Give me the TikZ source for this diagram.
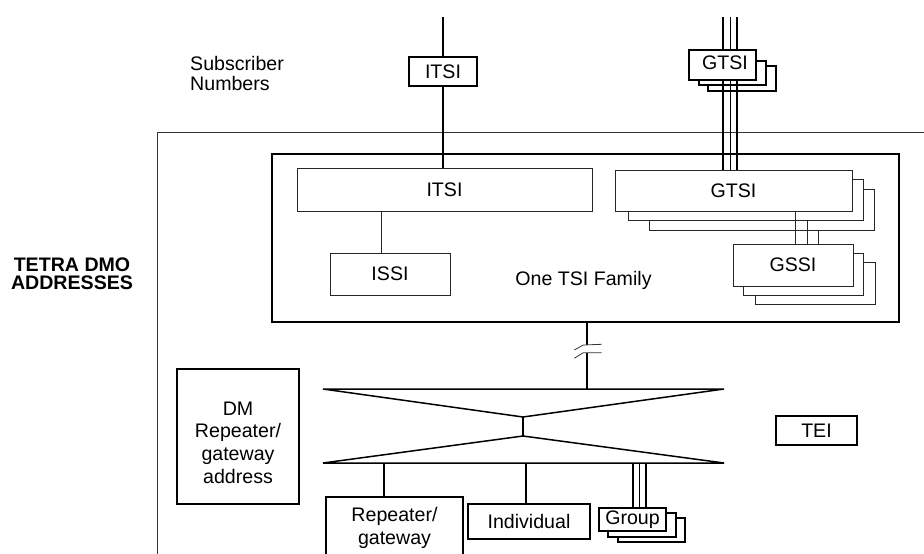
\documentclass[tikz,border=0pt]{standalone}
\usepackage{fontspec}
\setmainfont{Liberation Sans}
\begin{document}
\begin{tikzpicture}[x=1pt,y=-1pt,
  thinbox/.style={draw=black!85, line width=0.9pt, fill=white, inner sep=0pt, font=\fontsize{19.6}{22}\selectfont},
  thickbox/.style={draw=black, line width=1.8pt, fill=white, inner sep=0pt, font=\fontsize{19.6}{22}\selectfont},
  lbl/.style={inner sep=0pt, font=\fontsize{19.6}{22}\selectfont, align=center},
  wire/.style={line width=1.5pt},
  fine/.style={line width=0.9pt, draw=black!85},
  sz/.style 2 args={minimum width=#1, minimum height=#2},
]
\useasboundingbox (0,0) rectangle (924,554);

% outer frame
\coordinate (frTR) at (924,132);
\coordinate (frBL) at (157,556);
\draw[line width=0.9pt, draw=black!80] (frTR) -| (frBL);

% labels
\node[lbl, align=left, anchor=west, font=\fontsize{19.6}{20}\selectfont] (subs) at (190,73.5) {Subscriber\\Numbers};
\node[lbl, font=\fontsize{19.6}{18}\selectfont\bfseries] (tetra) at (72,273.8) {TETRA DMO\\ADDRESSES};

% top ITSI
\coordinate (itsiTopLine) at (443,17);
\node[thickbox, sz={68}{29}] (itsiTop) at (443,71.5) {ITSI};

% family box
\node[draw=black, line width=1.6pt, inner sep=0pt, sz={627}{168}] (family) at (585.5,238) {};
\node[thinbox, sz={295}{43}] (itsiIn) at (444.5,189.5) {ITSI};
\node[thinbox, sz={120}{42}] (issi) at (390,274) {ISSI};
\draw[wire] (itsiTopLine) -- (itsiTop.north);
\draw[wire] (itsiTop.south) -- (itsiTop.south |- itsiIn.north);
\coordinate (issiX) at (381,0);
\draw[fine] (issiX |- itsiIn.south) -- (issiX |- issi.north);
\node[lbl] (family label) at (583.5,280) {One TSI Family};

% GTSI inner stack
\node[thinbox, sz={225}{41}] (gtsiInC) at (761.5,209.5) {};
\node[thinbox, sz={235}{41}] (gtsiInB) at (745.5,199.5) {};
\node[thinbox, sz={237}{41}] (gtsiIn) at (733.5,190.5) {GTSI};

% GSSI stack
\node[thinbox, sz={120}{42}] (gssiC) at (815,283) {};
\node[thinbox, sz={120}{42}] (gssiB) at (803,274) {};
\node[thinbox, sz={120}{42}] (gssi) at (793,265) {GSSI};
\coordinate (ga) at (795,0);
\coordinate (gb) at (807,0);
\coordinate (gc) at (818,0);
\draw[fine] (ga |- gtsiIn.south) -- (ga |- gssi.north);
\draw[fine] (gb |- gtsiInB.south) -- (gb |- gssi.north);
\draw[fine] (gc |- gtsiInC.south) -- (gc |- gssi.north);

% top GTSI stack with triple line
\node[draw=black, line width=1.6pt, fill=white, inner sep=0pt, sz={68}{25}] (gtsiTopC) at (742,78.5) {};
\node[draw=black, line width=1.6pt, fill=white, inner sep=0pt, sz={67}{24}] (gtsiTopB) at (732.5,73) {};
\coordinate (ta) at (723,17);
\coordinate (tb) at (730.5,17);
\coordinate (tc) at (737,17);
\draw[line width=1.3pt] (ta) -- (ta |- gtsiIn.north);
\draw[line width=1.3pt] (tb) -- (tb |- gtsiIn.north);
\draw[line width=1.3pt] (tc) -- (tc |- gtsiIn.north);
\node[thickbox, line width=1.6pt, sz={67}{30}] (gtsiTop) at (722.5,65) {};
\node[lbl] (gtsiTopText) at (725,62.5) {GTSI};

% hourglass
\coordinate (hTL) at (323,389);
\coordinate (hTR) at (724,389);
\coordinate (hWT) at (523,417);
\coordinate (hWB) at (523,436);
\coordinate (hBL) at (323,463);
\coordinate (hBR) at (724,463);
\draw[wire, line join=miter] (hTL) -- (hTR) -- (hWT) -- cycle;
\draw[wire, line join=miter] (hBL) -- (hBR) -- (hWB) -- cycle;
\draw[wire] (hWT) -- (hWB);

% family -> hourglass with break
\coordinate (fx) at (587,0);
\coordinate (brkA) at (587,345);
\coordinate (brkB) at (587,353);
\draw[line width=1.6pt] (fx |- family.south) -- (brkA);
\draw[line width=1.3pt] (brkB) -- (fx |- hTL);
\draw[line width=0.8pt, draw=black!80] (574.3,350) -- (583.3,345) -- (601.7,344.3);
\draw[line width=0.8pt, draw=black!80] (574.3,358.3) -- (583.3,352.7) -- (601.7,352.7);

% DM box
\node[thickbox, sz={122}{135}] (dm) at (238,436.5) {};
\node[lbl, font=\fontsize{19.6}{22.7}\selectfont] (dmtext) at (238,442.4) {DM\\Repeater/\\gateway\\address};

% bottom boxes
\node[thickbox, sz={137}{61}, align=center, font=\fontsize{19.6}{23}\selectfont] (rep) at (394.5,527.5) {Repeater/\\gateway};
\node[thickbox, sz={122}{35}] (indiv) at (529,521.5) {Individual};
\node[draw=black, line width=1.5pt, fill=white, inner sep=0pt, sz={67}{24}] (groupC) at (651.5,530) {};
\node[draw=black, line width=1.5pt, fill=white, inner sep=0pt, sz={68}{24}] (groupB) at (642,525) {};
\node[thickbox, line width=1.5pt, sz={67}{23}] (group) at (632.5,519.5) {Group};

\coordinate (rx) at (384,0);
\coordinate (ix) at (526,0);
\coordinate (g1) at (633,0);
\coordinate (g2) at (639.5,0);
\coordinate (g3) at (646,0);
\draw[wire] (rx |- hBL) -- (rx |- rep.north);
\draw[wire] (ix |- hBL) -- (ix |- indiv.north);
\draw[line width=1.2pt] (g1 |- hBL) -- (g1 |- group.north);
\draw[line width=1.2pt] (g2 |- hBL) -- (g2 |- group.north);
\draw[line width=1.2pt] (g3 |- hBL) -- (g3 |- group.north);

% TEI
\node[thickbox, sz={81}{29}] (tei) at (816.5,430.5) {TEI};
\end{tikzpicture}
\end{document}
